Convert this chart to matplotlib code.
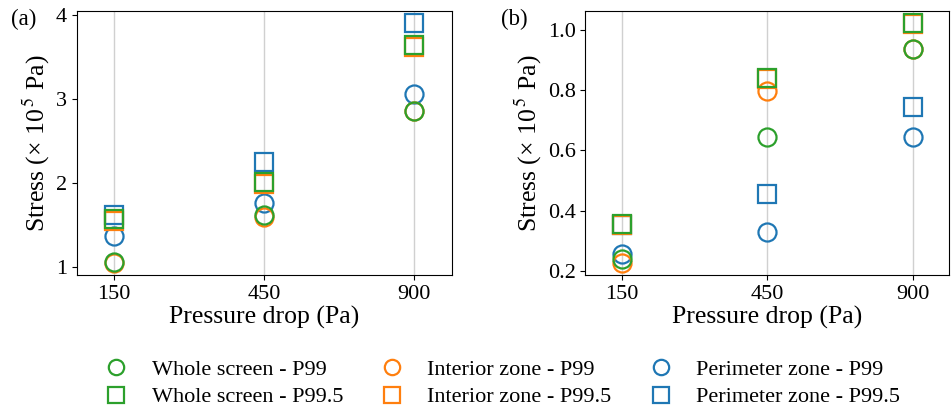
import matplotlib

matplotlib.use("Agg")
import matplotlib.pyplot as plt

plt.rcParams.update({
    "font.family": ["Liberation Serif", "DejaVu Serif"],
    "font.size": 16,
    "mathtext.fontset": "stix",
})

BLUE, ORANGE, GREEN = "#1f77b4", "#ff7f0e", "#2ca02c"

pressure = ["150", "450", "900"]

# panel (a)
a_whole_p99 = [1.06, 1.62, 2.86]
a_interior_p99 = [1.05, 1.60, 2.85]
a_perimeter_p99 = [1.37, 1.76, 3.06]
a_whole_p995 = [1.57, 2.01, 3.64]
a_interior_p995 = [1.55, 1.99, 3.62]
a_perimeter_p995 = [1.62, 2.25, 3.90]

# panel (b)
b_whole_p99 = [0.240, 0.643, 0.937]
b_interior_p99 = [0.227, 0.798, 0.937]
b_perimeter_p99 = [0.257, 0.328, 0.645]
b_whole_p995 = [0.355, 0.840, 1.022]
b_interior_p995 = [0.352, 0.838, 1.020]
b_perimeter_p995 = [0.352, 0.454, 0.745]

fig = plt.figure(figsize=(9.52, 4.09), dpi=100)
ax_a = fig.add_axes([0.0806, 0.328, 0.394, 0.645])
ax_b = fig.add_axes([0.615, 0.328, 0.382, 0.645])

mk = dict(linestyle="none", markersize=13, markeredgewidth=1.6,
          markerfacecolor="none")


def draw(ax, series):
    x = range(len(pressure))
    handles = {}
    # perimeter first, whole screen last (drawn on top)
    for key, vals, color, marker, z in series:
        h, = ax.plot(x, vals, marker=marker, color=color, zorder=z, **mk)
        handles[key] = h
    ax.set_xticks(list(x))
    ax.set_xticklabels(pressure)
    ax.set_xlim(-0.25, 2.25)
    ax.grid(axis="x", color="#d0d0d0", linewidth=1)
    ax.set_axisbelow(True)
    ax.set_xlabel("Pressure drop (Pa)", fontsize=18.5, labelpad=2)
    ax.set_ylabel(r"Stress (× 10$^{\,5}$ Pa)", fontsize=18.5, labelpad=3)
    return handles


series_a = [
    ("per99", a_perimeter_p99, BLUE, "o", 3),
    ("per995", a_perimeter_p995, BLUE, "s", 3),
    ("int99", a_interior_p99, ORANGE, "o", 4),
    ("int995", a_interior_p995, ORANGE, "s", 4),
    ("whole99", a_whole_p99, GREEN, "o", 5),
    ("whole995", a_whole_p995, GREEN, "s", 5),
]
series_b = [
    ("per99", b_perimeter_p99, BLUE, "o", 3),
    ("per995", b_perimeter_p995, BLUE, "s", 3),
    ("int99", b_interior_p99, ORANGE, "o", 4),
    ("int995", b_interior_p995, ORANGE, "s", 4),
    ("whole99", b_whole_p99, GREEN, "o", 5),
    ("whole995", b_whole_p995, GREEN, "s", 5),
]

h = draw(ax_a, series_a)
draw(ax_b, series_b)
ax_a.set_yticks([1, 2, 3, 4])
ax_b.set_yticks([0.2, 0.4, 0.6, 0.8, 1.0])
ax_b.set_yticklabels(["0.2", "0.4", "0.6", "0.8", "1.0"])

fig.text(0.012, 0.953, "(a)", fontsize=16.5, va="center")
fig.text(0.526, 0.953, "(b)", fontsize=16.5, va="center")

order = ["whole99", "whole995", "int99", "int995", "per99", "per995"]
labels = ["Whole screen - P99", "Whole screen - P99.5",
          "Interior zone - P99", "Interior zone - P99.5",
          "Perimeter zone - P99", "Perimeter zone - P99.5"]
fig.legend([h[k] for k in order], labels, ncol=3, loc="lower center",
           bbox_to_anchor=(0.522, -0.045), frameon=False, fontsize=16,
           markerscale=0.85, handlelength=2.0, handletextpad=0.6,
           columnspacing=1.2, labelspacing=0.3)

fig.savefig("out.png", dpi=100)
